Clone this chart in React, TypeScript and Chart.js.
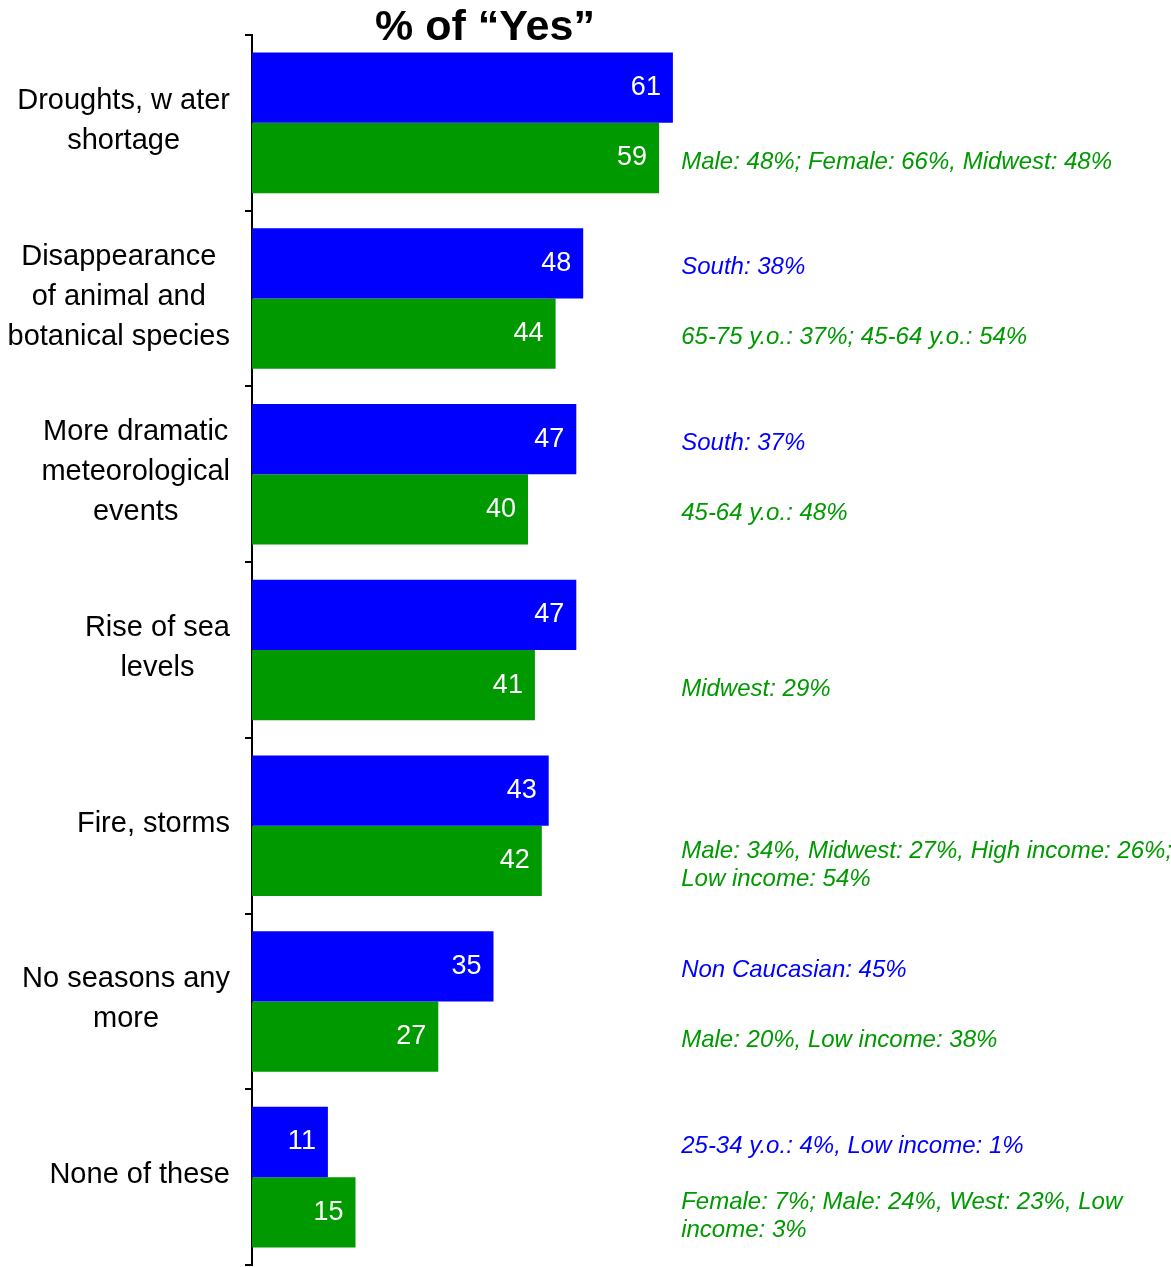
import React, { useEffect, useRef } from "react";
import { Chart, registerables } from "chart.js";

Chart.register(...registerables);

const titleText = "% of \u201CYes\u201D";
const categories: string[][] = [
  ["Droughts, w ater", "shortage"],
  ["Disappearance", "of animal and", "botanical species"],
  ["More dramatic", "meteorological", "events"],
  ["Rise of sea", "levels"],
  ["Fire, storms"],
  ["No seasons any", "more"],
  ["None of these"],
];
const blueValues = [61, 48, 47, 47, 43, 35, 11];
const greenValues = [59, 44, 40, 41, 42, 27, 15];
const blueNotes: string[][] = [
  [],
  ["South: 38%"],
  ["South: 37%"],
  [],
  [],
  ["Non Caucasian: 45%"],
  ["25-34 y.o.: 4%, Low income: 1%"],
];
const greenNotes: string[][] = [
  ["Male: 48%; Female: 66%, Midwest: 48%"],
  ["65-75 y.o.: 37%; 45-64 y.o.: 54%"],
  ["45-64 y.o.: 48%"],
  ["Midwest: 29%"],
  ["Male: 34%, Midwest: 27%, High income: 26%;", "Low income: 54%"],
  ["Male: 20%, Low income: 38%"],
  ["Female: 7%; Male: 24%, West: 23%, Low", "income: 3%"],
];

const BLUE = "#0000FF";
const GREEN = "#009900";
const FONT = "'Liberation Sans', Arial, sans-serif";

const customDraw = {
  id: "customDraw",
  afterDraw(chart: any) {
    const ctx = chart.ctx;
    const yScale = chart.scales.y;
    const xScale = chart.scales.x;
    ctx.save();
    // Title
    ctx.fillStyle = "#000";
    ctx.font = `bold 43px ${FONT}`;
    ctx.textAlign = "center";
    ctx.textBaseline = "alphabetic";
    ctx.fillText(titleText, 485, 40);

    // Category labels: block right-aligned, lines centered within block
    ctx.font = `29px ${FONT}`;
    ctx.textBaseline = "middle";
    ctx.textAlign = "center";
    const lineH = 40;
    const rightEdge = 230;
    categories.forEach((lines, i) => {
      const cy = yScale.getPixelForValue(i) - 2;
      const maxW = Math.max(...lines.map((l) => ctx.measureText(l).width));
      const cx = rightEdge - maxW / 2;
      const startY = cy - ((lines.length - 1) * lineH) / 2;
      lines.forEach((l, j) => ctx.fillText(l, cx, startY + j * lineH));
    });

    // Value labels inside bars
    ctx.font = `27px ${FONT}`;
    ctx.fillStyle = "#fff";
    ctx.textAlign = "right";
    ctx.textBaseline = "middle";
    chart.data.datasets.forEach((ds: any, di: number) => {
      const meta = chart.getDatasetMeta(di);
      meta.data.forEach((bar: any, i: number) => {
        ctx.fillText(String(ds.data[i]), bar.x - 12, bar.y);
      });
    });

    // Notes on the right
    ctx.font = `italic 24px ${FONT}`;
    ctx.textAlign = "left";
    const noteX = xScale.getPixelForValue(62.2);
    const noteLH = 28;
    const drawNotes = (notes: string[][], di: number, color: string) => {
      const meta = chart.getDatasetMeta(di);
      ctx.fillStyle = color;
      notes.forEach((lines, i) => {
        if (!lines.length) return;
        const bar = meta.data[i];
        const startY = bar.y + 4 - ((lines.length - 1) * noteLH) / 2;
        lines.forEach((l, j) => ctx.fillText(l, noteX, startY + j * noteLH));
      });
    };
    drawNotes(blueNotes, 0, BLUE);
    drawNotes(greenNotes, 1, GREEN);
    ctx.restore();
  },
};

export default function App() {
  const ref = useRef<HTMLCanvasElement | null>(null);
  useEffect(() => {
    if (!ref.current) return;
    const chart = new Chart(ref.current, {
      type: "bar",
      data: {
        labels: categories.map((c) => c.join(" ")),
        datasets: [
          {
            label: "Blue",
            data: blueValues,
            backgroundColor: BLUE,
            borderWidth: 0,
            categoryPercentage: 0.8,
            barPercentage: 1.0,
          },
          {
            label: "Green",
            data: greenValues,
            backgroundColor: GREEN,
            borderWidth: 0,
            categoryPercentage: 0.8,
            barPercentage: 1.0,
          },
        ],
      },
      options: {
        indexAxis: "y",
        animation: false,
        responsive: false,
        events: [],
        layout: { padding: { top: 35, bottom: 2, right: 229, left: 0 } },
        plugins: {
          legend: { display: false },
          tooltip: { enabled: false },
          title: { display: false },
        },
        scales: {
          x: { display: false, min: 0, max: 100 },
          y: {
            type: "category",
            afterFit: (scale: any) => {
              scale.width = 252;
            },
            ticks: { display: false },
            grid: {
              display: true,
              drawOnChartArea: false,
              drawTicks: true,
              tickLength: 7,
              color: "#000",
              lineWidth: 2,
              offset: true,
            },
            border: { display: true, color: "#000", width: 2 },
          },
        },
      },
      plugins: [customDraw],
    });
    return () => chart.destroy();
  }, []);
  return (
    <canvas
      ref={ref}
      width={1171}
      height={1267}
      style={{ position: "absolute", left: 0, top: 0, display: "block" }}
    />
  );
}
